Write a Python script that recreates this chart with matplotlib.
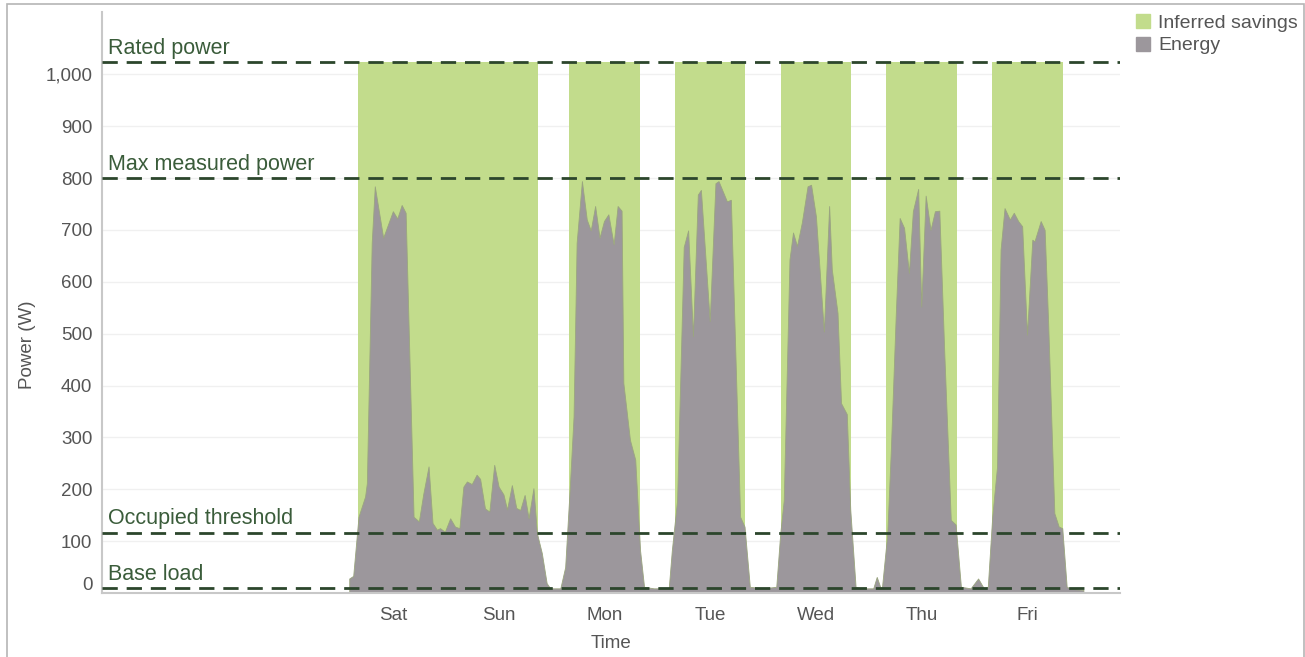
import matplotlib.pyplot as plt
import numpy as np
from matplotlib.patches import Patch, Rectangle
from matplotlib.ticker import FuncFormatter
from matplotlib.transforms import ScaledTranslation

plt.rcParams['font.family'] = ['Liberation Sans', 'DejaVu Sans']

# hours since Saturday 00:00 and measured power (W)
hours = [2.1, 3.0, 4.2, 5.7, 6.1, 7.2, 7.9, 9.8, 12.0, 13.0, 14.0, 14.9, 16.7, 17.9, 18.9, 20.1,
         21.0, 22.0, 22.7, 23.8, 25.0, 26.1, 27.1, 28.0, 28.8, 29.9, 31.0, 31.8, 32.9, 33.9, 35.0,
         36.0, 37.1, 37.9, 39.0, 40.0, 40.9, 41.9, 42.8, 43.9, 44.7, 45.8, 46.9, 47.7, 50.0, 51.1,
         52.2, 53.0, 53.7, 54.9, 56.0, 56.9, 57.9, 58.9, 59.9, 60.9, 62.1, 63.0, 63.9, 64.3, 65.8,
         67.0, 68.1, 69.0, 71.2, 74.6, 75.3, 76.5, 78.0, 79.0, 80.1, 81.2, 81.9, 83.9, 85.2, 85.9,
         87.8, 88.7, 90.8, 91.8, 93.0, 96.0, 99.0, 99.9, 100.7, 102.0, 102.8, 103.7, 104.8, 106.1,
         106.9, 108.0, 109.8, 111.0, 111.6, 112.9, 113.7, 115.0, 115.8, 117.0, 118.1, 121.0, 121.8,
         122.7, 123.0, 124.2, 125.0, 126.1, 127.0, 128.0, 129.1, 130.0, 131.2, 131.9, 132.9, 134.0,
         135.0, 136.0, 137.1, 138.6, 139.7, 140.9, 143.1, 144.8, 146.1, 147.0, 148.0, 149.1, 149.9,
         150.8, 152.0, 152.9, 153.9, 154.8, 155.9, 157.1, 157.6, 159.0, 159.9, 160.7, 162.1, 163.1,
         163.9, 164.9, 166.0, 168.7]
power = [28, 33, 147, 186, 212, 675, 784, 685, 736, 722, 748, 733, 147, 138, 191, 244,
         135, 122, 125, 118, 144, 128, 125, 205, 215, 210, 228, 220, 163, 157, 247,
         205, 190, 161, 208, 164, 160, 189, 144, 202, 115, 77, 19, 9, 9, 50,
         212, 340, 675, 794, 720, 699, 746, 685, 717, 730, 672, 746, 737, 405, 295,
         257, 82, 12, 9, 9, 82, 179, 667, 699, 495, 768, 777, 524, 790, 794,
         755, 758, 147, 128, 12, 9, 12, 115, 179, 643, 695, 669, 714, 784,
         787, 726, 504, 746, 624, 540, 366, 345, 160, 12, 9, 9, 31,
         9, 12, 115, 276, 533, 723, 704, 617, 736, 779, 552, 766, 700,
         736, 737, 469, 141, 132, 12, 9, 28, 9, 12, 147, 244, 662,
         742, 720, 733, 717, 707, 498, 681, 678, 717, 700, 520, 154, 128,
         125, 12, 8, 6]

# occupied periods (hours)
occ_start = [4, 52, 76, 100, 124, 148]
occ_end = [45, 68, 92, 116, 140, 164]

days = ['Sat', 'Sun', 'Mon', 'Tue', 'Wed', 'Thu', 'Fri']
ref_names = ['Rated power', 'Max measured power', 'Occupied threshold', 'Base load']
ref_values = [1023, 800, 116, 9]

green = '#c2dc8c'
grey = '#9c979c'
dark = '#2c462c'
label_green = '#3a5c3a'
text_grey = '#555555'

fig = plt.figure(figsize=(13.05, 6.57), dpi=100)
ax = fig.add_axes([102 / 1305, 1 - 593 / 657, 1018 / 1305, 581 / 657])

for a, b in zip(occ_start, occ_end):
    ax.fill_between([a, b], 0, ref_values[0], color=green, lw=0, zorder=1)

ax.fill_between(hours, 0, power, color=grey, lw=0.6, edgecolor='#9aa57f', zorder=2)

for name, v in zip(ref_names, ref_values):
    ax.axhline(v, color=dark, lw=2.0, linestyle=(0, (5.5, 3.2)), zorder=3)
    ax.annotate(name, xy=(0, v), xycoords=('axes fraction', 'data'), xytext=(4, 6),
                textcoords='offset points', va='baseline', ha='left',
                fontsize=15.5, color=label_green, zorder=4)

ax.set_xlim(-54, 177)
ax.set_ylim(0, 1120)
ax.set_yticks(np.arange(0, 1100, 100))
ax.yaxis.set_major_formatter(FuncFormatter(lambda v, p: f'{int(v):,}'))
ax.set_xticks([12 + 24 * i for i in range(len(days))])
ax.set_xticklabels(days)
ax.tick_params(axis='both', length=0, labelsize=13.5, labelcolor=text_grey)
ax.tick_params(axis='x', pad=10)
ax.tick_params(axis='y', pad=7)

# the zero label sits a little above the axis line, as in the original
zero = ax.get_yticklabels()[0]
zero.set_transform(zero.get_transform() + ScaledTranslation(0, 9 / 100, fig.dpi_scale_trans))

ax.grid(axis='y', color='#f0f0f0', lw=1.0, zorder=0)
ax.set_axisbelow(True)
for s in ['top', 'right']:
    ax.spines[s].set_visible(False)
for s in ['left', 'bottom']:
    ax.spines[s].set_color('#c8c8c8')
    ax.spines[s].set_linewidth(1.5)

ax.set_xlabel('Time', fontsize=13.5, color=text_grey)
ax.set_ylabel('Power (W)', fontsize=13.5, color=text_grey)
ax.xaxis.set_label_coords(0.5, -0.073)
ax.yaxis.set_label_coords(-0.065, 0.427)

handles = [Patch(color=green, label='Inferred savings'), Patch(color=grey, label='Energy')]
fig.legend(handles=handles, loc='upper left', bbox_to_anchor=(1128 / 1305, 1 - 6 / 657),
           frameon=False, fontsize=14, labelcolor=text_grey, handlelength=0.75,
           handleheight=0.75, handletextpad=0.4, labelspacing=0.25, borderaxespad=0)

fig.patches.append(Rectangle((7 / 1305, -0.05), 1297 / 1305, 1.05 - 4 / 657,
                             transform=fig.transFigure, fill=False, edgecolor='#b5b5b5', lw=1.2))

fig.savefig('out.png', dpi=100)
